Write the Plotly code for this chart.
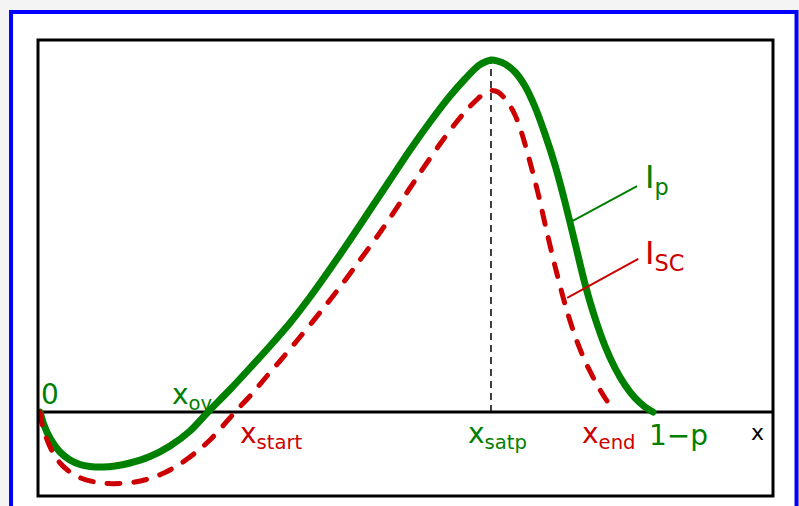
import plotly.graph_objects as go

# Normalised position along the cell: 0 at the origin, 1 at x = 1-p
x_ip = [0.0, 0.0065, 0.0163, 0.0326, 0.0489, 0.0653, 0.0816, 0.1028, 0.1223, 0.1468,
        0.1794, 0.2121, 0.2447, 0.2741, 0.3100, 0.3426, 0.3752, 0.4078, 0.4405, 0.4731,
        0.5057, 0.5383, 0.5710, 0.6036, 0.6362, 0.6688, 0.6933, 0.7145, 0.7259, 0.7357,
        0.7455, 0.7586, 0.7749, 0.7912, 0.8075, 0.8238, 0.8401, 0.8564, 0.8728, 0.8891,
        0.9054, 0.9217, 0.9380, 0.9543, 0.9706, 0.9869, 1.0]
# Photocurrent I_p, normalised to its maximum
i_p = [0.0, -0.0369, -0.0739, -0.1136, -0.1364, -0.1491, -0.1548, -0.1563, -0.1534, -0.1449,
       -0.1264, -0.0966, -0.0540, 0.0, 0.0639, 0.1250, 0.1875, 0.2528, 0.3267, 0.4063,
       0.4886, 0.5739, 0.6591, 0.7443, 0.8239, 0.8977, 0.9460, 0.9830, 0.9943, 1.0,
       0.9977, 0.9886, 0.9659, 0.9261, 0.8665, 0.7898, 0.7017, 0.5966, 0.4801, 0.3636,
       0.2670, 0.1875, 0.1250, 0.0767, 0.0398, 0.0142, 0.0]

x_isc = [0.0, 0.0033, 0.0098, 0.0196, 0.0326, 0.0489, 0.0685, 0.0897, 0.1109, 0.1305,
         0.1550, 0.1794, 0.2039, 0.2284, 0.2529, 0.2773, 0.2969, 0.3181, 0.3426, 0.3703,
         0.3997, 0.4241, 0.4568, 0.4894, 0.5220, 0.5546, 0.5873, 0.6199, 0.6525, 0.6770,
         0.6982, 0.7145, 0.7259, 0.7357, 0.7471, 0.7618, 0.7749, 0.7863, 0.7993, 0.8124,
         0.8254, 0.8401, 0.8564, 0.8728, 0.8891, 0.9054, 0.9217, 0.9380]
# Short-circuit current I_SC on the same scale
i_sc = [0.0, -0.0341, -0.0710, -0.1108, -0.1449, -0.1705, -0.1889, -0.1989, -0.2031, -0.2031,
        -0.1989, -0.1889, -0.1719, -0.1477, -0.1165, -0.0795, -0.0426, 0.0, 0.0455, 0.1023,
        0.1619, 0.2131, 0.2827, 0.3551, 0.4318, 0.5099, 0.5938, 0.6790, 0.7614, 0.8182,
        0.8622, 0.8906, 0.9063, 0.9134, 0.9091, 0.8835, 0.8438, 0.7898, 0.7102, 0.6222,
        0.5227, 0.4148, 0.3068, 0.2159, 0.1449, 0.0881, 0.0398, 0.0]

GREEN = "#008000"
RED = "#cc0000"
FONT = "DejaVu Sans"

fig = go.Figure()
fig.add_trace(go.Scatter(x=x_ip, y=i_p, mode="lines",
                         line=dict(color=GREEN, width=7, shape="spline", smoothing=0.8),
                         hoverinfo="skip"))
fig.add_trace(go.Scatter(x=x_isc, y=i_sc, mode="lines",
                         line=dict(color=RED, width=5, shape="spline", smoothing=0.8,
                                   dash="13px,14px"),
                         hoverinfo="skip"))

# saturation point: position of the I_p maximum
k_peak = i_p.index(max(i_p))
x_satp = x_ip[k_peak]

shapes = [
    # outer blue frame
    dict(type="rect", xref="paper", yref="paper", x0=-0.0367, x1=1.0320,
         y0=-0.10, y1=1.0614, line=dict(color="#0000ff", width=4),
         fillcolor="white", layer="below"),
    # plot frame
    dict(type="rect", xref="paper", yref="paper", x0=0, x1=1, y0=0, y1=1,
         line=dict(color="black", width=3)),
    # x axis
    dict(type="line", xref="paper", yref="y", x0=0, x1=1, y0=0, y1=0,
         line=dict(color="black", width=3), layer="below"),
    # drop line from the maximum
    dict(type="line", xref="x", yref="y", x0=x_satp, x1=x_satp, y0=0, y1=max(i_p),
         line=dict(color="black", width=1.5, dash="7px,5px"), layer="below"),
    # leader lines of the curve labels
    dict(type="line", xref="x", yref="y", x0=0.863, y0=0.537, x1=0.974, y1=0.642,
         line=dict(color=GREEN, width=2)),
    dict(type="line", xref="x", yref="y", x0=0.860, y0=0.324, x1=0.976, y1=0.435,
         line=dict(color=RED, width=2)),
]


def label(text, x, y, color, size=28, xanchor="center", yanchor="middle"):
    return dict(text=text, x=x, y=y, xref="x", yref="y", showarrow=False,
                xanchor=xanchor, yanchor=yanchor,
                font=dict(family=FONT, size=size, color=color))


annotations = [
    label("0", 0.016, 0.051, GREEN),
    label("x<sub>ov</sub>", 0.248, 0.045, GREEN),
    label("x<sub>start</sub>", 0.378, -0.066, RED),
    label("x<sub>satp</sub>", x_satp + 0.011, -0.066, GREEN),
    label("x<sub>end</sub>", 0.928, -0.066, RED),
    label("1\u2212p", 1.042, -0.066, GREEN),
    label("x", 1.170, -0.057, "black", size=22),
    label("I<sub>p</sub>", 0.983, 0.662, GREEN, size=32, xanchor="left"),
    label("I<sub>SC</sub>", 0.983, 0.447, RED, size=32, xanchor="left"),
]

fig.update_layout(
    width=799, height=506,
    margin=dict(l=38, r=26, t=40, b=10),
    paper_bgcolor="#f4f4f4",
    plot_bgcolor="white",
    showlegend=False,
    shapes=shapes,
    annotations=annotations,
    xaxis=dict(range=[-0.00326, 1.19576], visible=False, fixedrange=True),
    yaxis=dict(range=[-0.23864, 1.05682], visible=False, fixedrange=True),
)

# round caps on the curves and their dashes
round_caps = """
var gd = document.getElementById('{plot_id}');
function roundCaps() {
  gd.querySelectorAll('.scatterlayer .js-line').forEach(function (p) {
    p.style.strokeLinecap = 'round';
  });
}
roundCaps();
setTimeout(roundCaps, 0);
if (gd.on) { gd.on('plotly_afterplot', roundCaps); }
"""

fig.write_html("out.html", config={"displayModeBar": False}, post_script=round_caps)
